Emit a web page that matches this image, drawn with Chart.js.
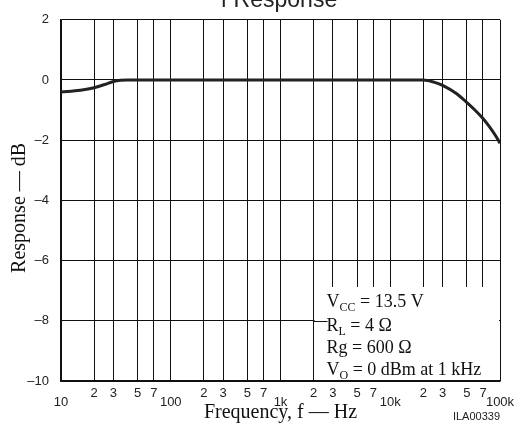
<!DOCTYPE html>
<html>
<head>
<meta charset="utf-8">
<script src="https://cdn.jsdelivr.net/npm/chart.js@4/dist/chart.umd.min.js"></script>
<style>
  html, body { margin: 0; padding: 0; background: #fff; }
  #wrap { width: 516px; height: 429px; }
</style>
</head>
<body>
<div id="wrap"><canvas id="c" width="516" height="429"></canvas></div>
<script>
// frequency response
const freqs = [10, 15, 20, 25, 30, 35, 40, 100, 1000, 10000, 20000, 25000, 30000, 40000, 50000, 60000, 70000, 80000, 90000, 100000];
const responseDb = [-0.40, -0.34, -0.26, -0.15, -0.05, -0.01, 0, 0, 0, 0, 0, -0.07, -0.18, -0.45, -0.75, -1.02, -1.28, -1.55, -1.82, -2.1];

const xTickValues = [10, 20, 30, 50, 70, 100, 200, 300, 500, 700, 1000, 2000, 3000, 5000, 7000, 10000, 20000, 30000, 50000, 70000, 100000];
const xTickLabels = ['10', '2', '3', '5', '7', '100', '2', '3', '5', '7', '1k', '2', '3', '5', '7', '10k', '2', '3', '5', '7', '100k'];
const yTickValues = [2, 0, -2, -4, -6, -8, -10];

const chartTitle = 'f Response';
const xTitle = 'Frequency, f \u2014 Hz';
const yTitle = 'Response \u2014 dB   ';
const figId = 'ILA00339';
// [main, subscript, rest]
const noteLines = [
  ['V', 'CC', ' = 13.5 V'],
  ['R', 'L', ' = 4 \u03A9'],
  ['Rg = 600 \u03A9', '', ''],
  ['V', 'O', ' = 0 dBm at 1 kHz']
];

const sans = '"Liberation Sans", Arial, sans-serif';
const serif = '"Liberation Serif", "Times New Roman", serif';

function isMajor(i) {
  return xTickLabels[i] && xTickLabels[i].length > 1;
}

const extras = {
  id: 'extras',
  afterDraw(chart) {
    const ctx = chart.ctx;
    const xs = chart.scales.x, ys = chart.scales.y;
    const area = chart.chartArea;
    ctx.save();
    // clipped title at the very top
    ctx.fillStyle = '#222';
    ctx.font = '23px ' + sans;
    ctx.textAlign = 'center';
    ctx.textBaseline = 'alphabetic';
    ctx.fillText(chartTitle, 279, 7);

    // figure id
    ctx.font = '11px ' + sans;
    ctx.textAlign = 'right';
    ctx.fillText(figId, area.right, 420);

    // condition box
    const bx = xs.getPixelForValue(2000);
    ctx.fillStyle = '#fff';
    ctx.fillRect(bx + 1, 287, area.right - bx - 2, area.bottom - 288);
    const y8 = Math.round(ys.getPixelForValue(-8)) + 0.5;
    ctx.strokeStyle = '#111';
    ctx.lineWidth = 1;
    ctx.beginPath();
    ctx.moveTo(bx, y8);
    ctx.lineTo(bx + 14, y8);
    ctx.stroke();

    ctx.fillStyle = '#111';
    ctx.textAlign = 'left';
    const base = [307, 331, 353, 375];
    noteLines.forEach((ln, i) => {
      let x = bx + 13;
      ctx.font = '18px ' + serif;
      ctx.fillText(ln[0], x, base[i]);
      x += ctx.measureText(ln[0]).width;
      if (ln[1]) {
        ctx.font = '12px ' + serif;
        ctx.fillText(ln[1], x, base[i] + 4);
        x += ctx.measureText(ln[1]).width;
      }
      ctx.font = '18px ' + serif;
      ctx.fillText(ln[2], x, base[i]);
    });
    ctx.restore();
  }
};

const ctx = document.getElementById('c').getContext('2d');

new Chart(ctx, {
  type: 'line',
  data: {
    datasets: [{
      data: freqs.map((f, i) => ({ x: f, y: responseDb[i] })),
      borderColor: '#222',
      borderWidth: 3,
      pointRadius: 0,
      cubicInterpolationMode: 'monotone',
      fill: false
    }]
  },
  options: {
    responsive: false,
    animation: false,
    layout: { padding: { left: 0, top: 18, right: 16, bottom: 0 } },
    plugins: {
      legend: { display: false },
      tooltip: { enabled: false }
    },
    scales: {
      x: {
        type: 'logarithmic',
        min: 10,
        max: 100000,
        afterBuildTicks: s => { s.ticks = xTickValues.map(v => ({ value: v })); },
        afterFit: s => { s.height = 48; s.paddingRight = 0; },
        grid: { color: '#111', lineWidth: 1, drawTicks: false },
        border: { color: '#111', width: 1.5 },
        ticks: {
          autoSkip: false,
          maxRotation: 0,
          padding: 6,
          color: '#222',
          font: c => ({ family: sans, size: 13, lineHeight: isMajor(c.index) ? '10px' : '12px' }),
          callback: (v, i) => isMajor(i) ? ['', xTickLabels[i]] : xTickLabels[i]
        },
        title: {
          display: true,
          text: xTitle,
          color: '#111',
          font: { family: serif, size: 20 },
          padding: { top: 0, bottom: 4 }
        }
      },
      y: {
        min: -10,
        max: 2,
        afterBuildTicks: s => { s.ticks = yTickValues.map(v => ({ value: v })); },
        afterFit: s => { s.width = 61; },
        grid: { color: '#111', lineWidth: 1, drawTicks: false },
        border: { color: '#111', width: 1.5 },
        ticks: {
          padding: 12,
          color: '#222',
          font: { family: sans, size: 13 },
          callback: v => v < 0 ? '\u2013' + Math.abs(v) : String(v)
        },
        title: {
          display: true,
          text: yTitle,
          color: '#111',
          font: { family: serif, size: 20 },
          padding: { top: 8, bottom: 0 }
        }
      }
    }
  },
  plugins: [extras]
});
</script>
</body>
</html>
